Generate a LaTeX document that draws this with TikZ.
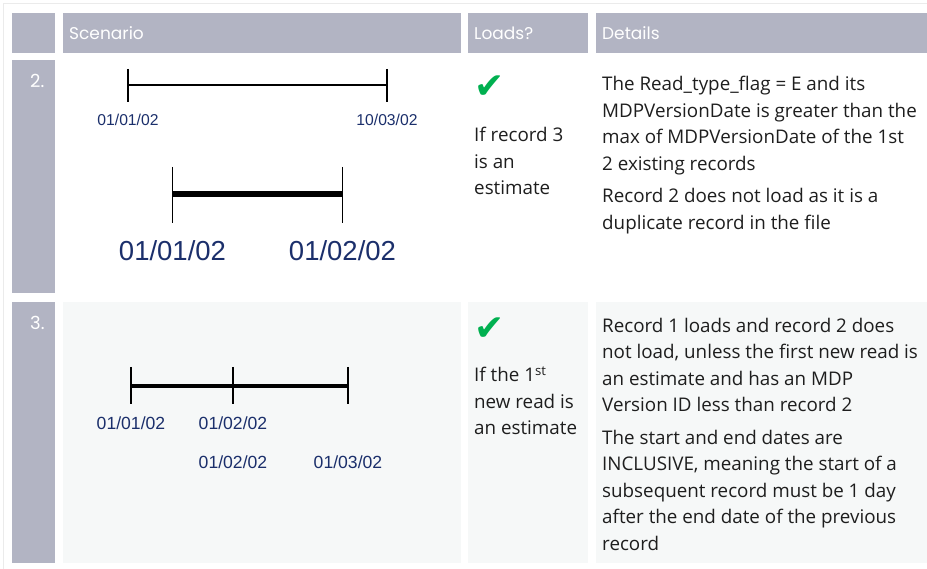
\documentclass[tikz,border=0pt]{standalone}
\usepackage{fontspec}
\setmainfont{Open Sans}
\newfontfamily\hdrfont{Poppins}
\newfontfamily\datefont{Liberation Sans}
\newfontfamily\symfont{DejaVu Sans}
\definecolor{hdr}{HTML}{B2B4C3}
\definecolor{rowbg}{HTML}{F6F8F8}
\definecolor{navy}{HTML}{1B2F6B}
\definecolor{chk}{HTML}{00B050}
\definecolor{framec}{HTML}{EBEBEB}
\definecolor{txt}{HTML}{1E1E1E}
\tikzset{
  hdrtext/.style={anchor=base west, inner sep=0pt, text=white, font=\hdrfont\fontsize{17}{20}\selectfont},
  numtext/.style={anchor=base west, inner sep=0pt, text=white, font=\hdrfont\fontsize{18}{20}\selectfont},
  body/.style={anchor=base west, inner sep=0pt, align=left, text=txt, font=\fontsize{18.8}{26.5}\selectfont},
  chkmark/.style={anchor=center, inner sep=0pt, text=chk, font=\symfont\fontsize{36}{36}\selectfont},
  datesmall/.style={anchor=base, inner sep=0pt, text=navy, font=\datefont\fontsize{15.7}{18}\selectfont},
  datemid/.style={anchor=base, inner sep=0pt, text=navy, font=\datefont\fontsize{17.6}{20}\selectfont},
  datebig/.style={anchor=base, inner sep=0pt, text=navy, font=\datefont\fontsize{27.5}{30}\selectfont},
  tick/.style={line width=1.5pt, black},
}
\begin{document}
\begin{tikzpicture}[x=1pt,y=-1pt]
\useasboundingbox (0,0) rectangle (927,569);
% frame
\draw[framec, line width=1pt] (927,3.5) -- (3.5,3.5) -- (3.5,569);
% header
\fill[hdr] (12,13) rectangle (55,53);
\fill[hdr] (63,13) rectangle (461,53);
\fill[hdr] (468,13) rectangle (588,53);
\fill[hdr] (596,13) rectangle (927,53);
\node[hdrtext] (hs) at (69,40) {Scenario};
\node[hdrtext] (hl) at (474,40) {Loads?};
\node[hdrtext] (hd) at (602,40) {Details};
% row 2
\fill[hdr] (12,60) rectangle (55,293);
\node[numtext] (n2) at (30,88) {2.};
\node[chkmark] (c2) at (490,87) {✔};
\node[body] (l2) at (474,195) {If record 3\\is an\\estimate};
\node[body] (d2a) at (602,170.5) {The Read\_type\_flag = E and its\\MDPVersionDate is greater than the\\max of MDPVersionDate of the 1st\\2 existing records};
\node[body] (d2b) at (602,229.5) {Record 2 does not load as it is a\\duplicate record in the file};
% row 2 timelines
\coordinate (a1) at (128,85); \coordinate (a2) at (387,85);
\draw[tick] (128,69) -- (128,102);
\draw[tick] (387,69) -- (387,102);
\draw[line width=1.8pt] (a1) -- (a2);
\node[datesmall] (ta1) at (128,126) {01/01/02};
\node[datesmall] (ta2) at (387,126) {10/03/02};
\coordinate (b1) at (172.5,194); \coordinate (b2) at (342.5,194);
\draw[tick] (172.5,167) -- (172.5,223);
\draw[tick] (342.5,167) -- (342.5,223);
\draw[line width=6pt] (b1) -- (b2);
\node[datebig] (tb1) at (172.5,261) {01/01/02};
\node[datebig] (tb2) at (342.5,261) {01/02/02};
% row 3
\fill[hdr] (12,302) rectangle (55,563);
\fill[rowbg] (63,302) rectangle (461,563);
\fill[rowbg] (468,302) rectangle (588,563);
\fill[rowbg] (596,302) rectangle (927,563);
\node[numtext] (n3) at (30,330) {3.};
\node[chkmark] (c3) at (490,329.5) {✔};
\node[body] (l3) at (474,435) {If the 1\textsuperscript{st}\\new read is\\an estimate};
\node[body] (d3a) at (602,411.5) {Record 1 loads and record 2 does\\not load, unless the first new read is\\an estimate and has an MDP\\Version ID less than record 2};
\node[body] (d3b) at (602,550) {The start and end dates are\\INCLUSIVE, meaning the start of a\\subsequent record must be 1 day\\after the end date of the previous\\record};
% row 3 timeline
\coordinate (e1) at (131,386); \coordinate (e2) at (233,386); \coordinate (e3) at (348,386);
\draw[tick] (131,367) -- (131,404);
\draw[tick] (233,367) -- (233,404);
\draw[tick] (348,367) -- (348,404);
\draw[line width=3.5pt] (e1) -- (e2) -- (e3);
\node[datemid] (te1) at (131,429) {01/01/02};
\node[datemid] (te2) at (233,429) {01/02/02};
\node[datemid] (te3) at (233,468) {01/02/02};
\node[datemid] (te4) at (348,468) {01/03/02};
\end{tikzpicture}
\end{document}
